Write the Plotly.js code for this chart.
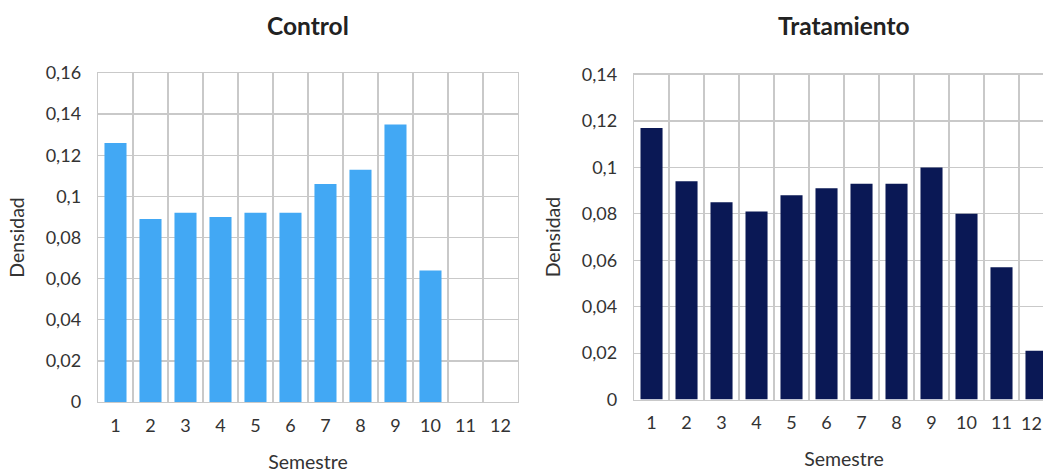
<!DOCTYPE html>
<html>
<head>
<meta charset="utf-8">
<script src="https://cdn.plot.ly/plotly-3.0.1.min.js"></script>
<style>
  html, body { margin: 0; padding: 0; overflow: hidden; background: #ffffff; }
  #chart { width: 1060px; height: 475px; }
</style>
</head>
<body>
<div id="chart"></div>
<script>
// Semester categories shared by both panels
const semestres = ['1', '2', '3', '4', '5', '6', '7', '8', '9', '10', '11', '12'];

// Density of students per semester
const control = [0.126, 0.089, 0.092, 0.090, 0.092, 0.092, 0.106, 0.113, 0.135, 0.064, 0, 0];
const tratamiento = [0.117, 0.094, 0.085, 0.081, 0.088, 0.091, 0.093, 0.093, 0.100, 0.080, 0.057, 0.021];

const panelTitles = ['Control', 'Tratamiento'];
const xTitle = 'Semestre';
const yTitle = 'Densidad';

const gridColor = '#c9c9c9';
const textColor = '#333333';
const tickFont = { family: 'Lato, "Open Sans", sans-serif', size: 18, color: textColor };
const axisTitleFont = { family: 'Lato, "Open Sans", sans-serif', size: 19.5, color: textColor };

function xAxis(domain) {
  return {
    domain: domain,
    type: 'category',
    tickson: 'boundaries',
    range: [-0.5, semestres.length - 0.5],
    showgrid: true,
    gridcolor: gridColor,
    gridwidth: 1.3,
    showline: true,
    linecolor: gridColor,
    linewidth: 1.3,
    mirror: true,
    ticks: '',
    tickangle: 0,
    ticklabelstandoff: 7,
    tickfont: tickFont,
    title: { text: xTitle, font: axisTitleFont, standoff: 20 },
    fixedrange: true
  };
}

function yAxis(domain, maxVal, anchor) {
  return {
    domain: domain,
    anchor: anchor,
    range: [0, maxVal],
    dtick: 0.02,
    tick0: 0,
    showgrid: true,
    gridcolor: gridColor,
    gridwidth: 1.3,
    zeroline: false,
    showline: true,
    linecolor: gridColor,
    linewidth: 1.3,
    mirror: true,
    ticks: '',
    ticklabelstandoff: 12,
    tickfont: tickFont,
    title: { text: yTitle, font: axisTitleFont, standoff: 16 },
    fixedrange: true
  };
}

const traces = [
  {
    type: 'bar',
    x: semestres,
    y: control,
    xaxis: 'x',
    yaxis: 'y',
    marker: { color: '#42a8f4', line: { width: 0 } },
    hoverinfo: 'x+y'
  },
  {
    type: 'bar',
    x: semestres,
    y: tratamiento,
    xaxis: 'x2',
    yaxis: 'y2',
    marker: { color: '#0a1855', line: { width: 0 } },
    hoverinfo: 'x+y'
  }
];

const titleFont = { family: 'Lato, "Open Sans", sans-serif', size: 24.5, color: '#222222', weight: 700 };

// The last category label of the right panel sits at the page edge:
// it is left out of the axis labels and drawn as an annotation nudged inward.
const lastIndex = semestres.length - 1;
const rightTickText = semestres.map((s, i) => (i === lastIndex ? '' : s));

const layout = {
  width: 1060,
  height: 475,
  margin: { l: 98, r: 6, t: 73, b: 73 },
  paper_bgcolor: '#ffffff',
  plot_bgcolor: '#ffffff',
  separators: ',.',
  showlegend: false,
  bargap: 0.37,
  xaxis: Object.assign(xAxis([0, 0.4393]), { anchor: 'y' }),
  yaxis: yAxis([0, 1], 0.16, 'x'),
  xaxis2: Object.assign(xAxis([0.5607, 1]), {
    anchor: 'y2',
    tickmode: 'array',
    tickvals: semestres,
    ticktext: rightTickText
  }),
  yaxis2: yAxis([0.0073, 0.9954], 0.14, 'x2'),
  annotations: [
    {
      text: '<b>' + panelTitles[0] + '</b>',
      xref: 'x domain', yref: 'paper',
      x: 0.5, y: 1, yshift: 48,
      xanchor: 'center', yanchor: 'middle',
      showarrow: false,
      font: titleFont
    },
    {
      text: '<b>' + panelTitles[1] + '</b>',
      xref: 'x2 domain', yref: 'paper',
      x: 0.5, y: 1, yshift: 48,
      xanchor: 'center', yanchor: 'middle',
      showarrow: false,
      font: titleFont
    },
    {
      text: semestres[lastIndex],
      xref: 'x2', yref: 'paper',
      x: lastIndex, y: 0.0073,
      xanchor: 'center', yanchor: 'top',
      xshift: -5, yshift: -10,
      showarrow: false,
      font: tickFont
    }
  ]
};

Plotly.newPlot('chart', traces, layout, { displayModeBar: false, staticPlot: true });
</script>
</body>
</html>
